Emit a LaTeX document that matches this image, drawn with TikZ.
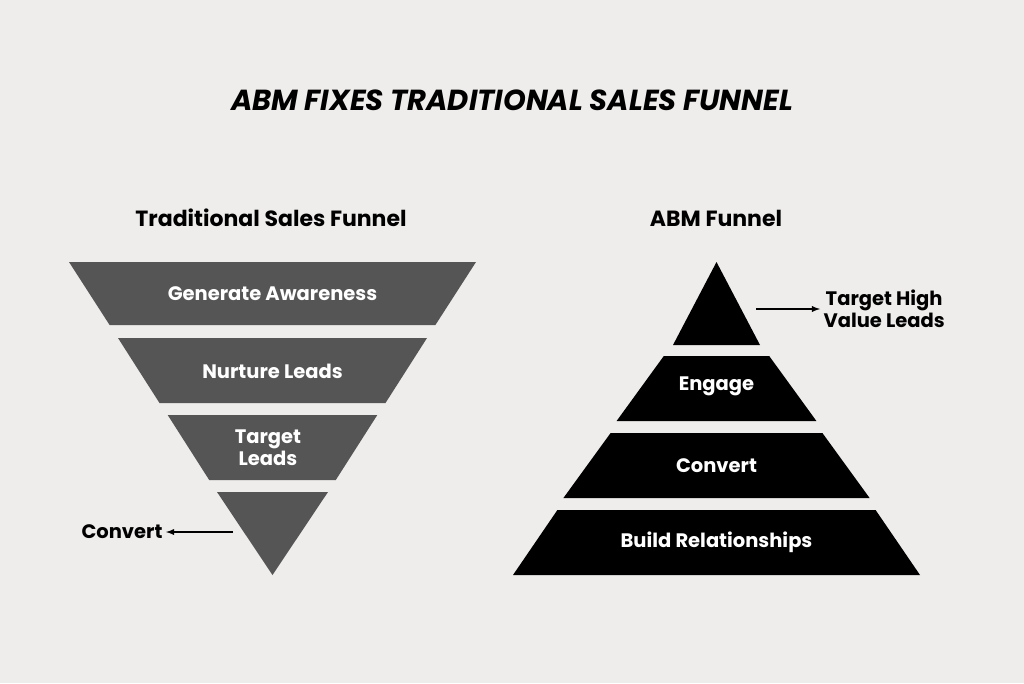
\documentclass[tikz,border=0pt]{standalone}
\usepackage{fontspec}
\setmainfont{Poppins}
\definecolor{bg}{HTML}{EEEDEB}
\definecolor{gray}{HTML}{555555}
\begin{document}
\begin{tikzpicture}[x=1pt,y=-1pt,
  lab/.style={text=white,font=\bfseries\fontsize{19.5}{24}\selectfont,align=center},
  blab/.style={text=black,font=\bfseries\fontsize{19.5}{24}\selectfont,align=center},
  sub/.style={font=\bfseries\fontsize{22}{26}\selectfont},
  arr/.style={-latex,line width=1.8pt}]
\fill[bg] (0,0) rectangle (1024,683);
\useasboundingbox (0,0) rectangle (1024,683);
\node[font=\bfseries\itshape\fontsize{29}{34}\selectfont] (title) at (512,100) {ABM FIXES TRADITIONAL SALES FUNNEL};
\node[sub] (s1) at (271,218) {Traditional Sales Funnel};
\node[sub] (s2) at (716,218) {ABM Funnel};
% left funnel
\fill[gray] (69,262) -- (476,262) -- (435.4,325) -- (109.6,325) -- cycle;
\fill[gray] (118,338) -- (427,338) -- (385.5,403) -- (159.5,403) -- cycle;
\fill[gray] (167.7,415) -- (377.3,415) -- (335.8,480) -- (209.2,480) -- cycle;
\fill[gray] (217,492) -- (328,492) -- (272.5,575) -- cycle;
\node[lab] (l1) at (272.5,294) {Generate Awareness};
\node[lab] (l2) at (272.5,371) {Nurture Leads};
\node[lab] (l3) at (268,448) {Target\\[-2pt]Leads};
\coordinate (cstart) at (233,532);
\node[blab,anchor=east] (conv) at (166,532) {Convert};
\draw[arr] (cstart) -- (conv.east);
% right pyramid
\fill[black] (716.5,262) -- (760,345) -- (673,345) -- cycle;
\fill[black] (663.8,356) -- (769.2,356) -- (816.4,421) -- (616.6,421) -- cycle;
\fill[black] (610.6,433) -- (822.4,433) -- (869.6,498) -- (563.4,498) -- cycle;
\fill[black] (557.4,510) -- (875.6,510) -- (920,575) -- (513,575) -- cycle;
\node[lab] (r2) at (716.5,386) {Engage};
\node[lab] (r3) at (716.5,466) {Convert};
\node[lab] (r4) at (716.5,542) {Build Relationships};
\coordinate (tstart) at (756,309);
\node[blab,anchor=west] (tgt) at (820,309) {Target High\\[-2pt]Value Leads};
\draw[arr] (tstart) -- (tgt.west);
\end{tikzpicture}
\end{document}
